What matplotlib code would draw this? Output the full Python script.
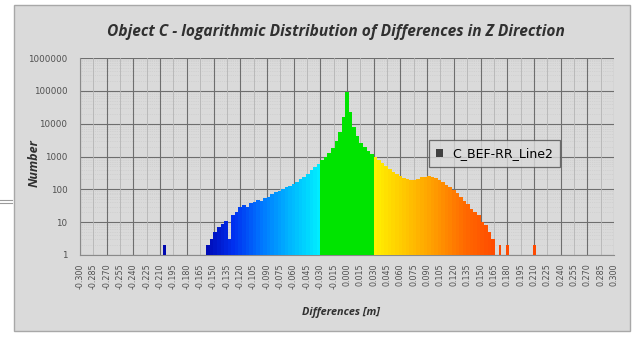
import numpy as np
import matplotlib
matplotlib.use("Agg")
import matplotlib.pyplot as plt
from matplotlib.colors import LinearSegmentedColormap
from matplotlib.patches import Rectangle, Patch
from matplotlib.lines import Line2D
from matplotlib.ticker import FixedLocator, NullFormatter

# histogram bins (centre of each 0.004 m class) and their counts
bin_centers = [round(-0.156 + 0.004 * i, 3) for i in range(81)]
counts = [
    2, 3, 5, 7, 9, 11, 3, 16, 21, 28,
    33, 30, 38, 42, 47, 44, 55, 60, 72, 82,
    92, 105, 118, 130, 148, 170, 200, 245, 300, 380,
    480, 590, 760, 950, 1250, 1800, 3000, 5500, 16000, 90000,
    22000, 8000, 4200, 2600, 1900, 1500, 1200, 1000, 780, 650,
    520, 420, 340, 290, 250, 220, 200, 190, 195, 210,
    230, 245, 250, 240, 220, 190, 165, 140, 120, 95,
    75, 60, 45, 35, 25, 20, 16, 10, 8, 5,
    3,
]
# isolated single classes away from the main body
outlier_x = [-0.205, 0.172, 0.180, 0.211]
outlier_counts = [2, 2, 2, 2]

bin_width = 0.004
xtick_values = [round(-0.300 + 0.015 * i, 3) for i in range(41)]
ytick_values = [1, 10, 100, 1000, 10000, 100000, 1000000]
green_limit = 0.030

blue_map = LinearSegmentedColormap.from_list(
    "neg", ["#0008b0", "#0030f0", "#0078ff", "#00b8ff", "#00f0ff"])
warm_map = LinearSegmentedColormap.from_list(
    "pos", ["#fff200", "#ffc800", "#ff9c00", "#ff6a00", "#ff4a00"])


def bar_color(x):
    if x < -green_limit:
        return blue_map((x + 0.160) / (0.160 - green_limit))
    if x > green_limit:
        return warm_map((x - green_limit) / (0.166 - green_limit))
    return "#00e400"


bg = "#dadada"
fig = plt.figure(figsize=(6.35, 3.4), dpi=100)
fig.patch.set_facecolor("white")
frame = Rectangle((14 / 635, 9 / 340), 616 / 635, 326 / 340,
                  transform=fig.transFigure, facecolor=bg,
                  edgecolor="#a8a8a8", linewidth=1.0, zorder=-5)
fig.add_artist(frame)
# page edge to the left of the chart
for yy in (200, 203):
    fig.add_artist(Line2D([0, 12 / 635], [1 - yy / 340] * 2,
                          transform=fig.transFigure, color="#9a9a9a",
                          linewidth=0.8))

ax = fig.add_axes([80 / 635, 85 / 340, 534 / 635, 197 / 340])
ax.set_zorder(2)
ax.set_facecolor(bg)

ax.bar(bin_centers, counts, width=bin_width * 1.02,
       color=[bar_color(x) for x in bin_centers], linewidth=0, zorder=3)
ax.bar(outlier_x, outlier_counts, width=0.003,
       color=[bar_color(x) for x in outlier_x], linewidth=0, zorder=3)

ax.set_yscale("log")
ax.set_ylim(1, 1000000)
ax.set_xlim(-0.300, 0.300)

ax.set_xticks(xtick_values)
ax.set_xticklabels([f"{v:.3f}" for v in xtick_values], rotation=90,
                   fontsize=5.8, color="#505050")
ax.set_yticks(ytick_values)
ax.set_yticklabels([str(v) for v in ytick_values], fontsize=6.3, color="#505050")
ax.yaxis.set_minor_locator(FixedLocator(
    [m * 10 ** e for e in range(6) for m in range(2, 10)]))
ax.yaxis.set_minor_formatter(NullFormatter())
ax.tick_params(axis="y", which="both", length=0, pad=9)
ax.tick_params(axis="x", which="both", length=0, pad=6)

# major lines every second class label, light lines in between
for i, v in enumerate(xtick_values):
    if i % 2 == 0:
        ax.axvline(v, color="#6e6e6e", linewidth=0.8, zorder=1)
    else:
        ax.axvline(v, color="#b4b4b4", linewidth=0.6, zorder=1)
ax.grid(True, axis="y", which="major", color="#6e6e6e", linewidth=0.8, zorder=1)
ax.grid(True, axis="y", which="minor", color="#c8c8c8", linewidth=0.5,
        linestyle=":", zorder=1)
ax.set_axisbelow(True)
for side in ["top", "right"]:
    ax.spines[side].set_visible(False)
for side in ["left", "bottom"]:
    ax.spines[side].set_color("#8a8a8a")
    ax.spines[side].set_linewidth(0.8)

font = ["Open Sans", "DejaVu Sans"]
fig.text(336 / 635, 1 - 32 / 340,
         "Object C - logarithmic Distribution of Differences in Z Direction",
         ha="center", va="center", fontsize=11.2, fontweight="bold",
         style="italic", color="#303030", family=font)
fig.text(34 / 635, 1 - 163 / 340, "Number", rotation=90, ha="center",
         va="center", fontsize=9, fontweight="bold", style="italic",
         color="#303030", family=font)
fig.text(341 / 635, 1 - 313 / 340, "Differences [m]", ha="center",
         va="center", fontsize=7.8, fontweight="bold", style="italic",
         color="#303030", family=font)

leg = ax.legend(handles=[Patch(facecolor="#404040", label="C_BEF-RR_Line2")],
                loc="center left", bbox_to_anchor=(0.653, 0.515),
                frameon=True, fancybox=False,
                handlelength=0.6, handleheight=0.6, borderpad=0.55,
                handletextpad=0.7, borderaxespad=0,
                prop={"family": "DejaVu Sans", "size": 9})
leg.get_frame().set_facecolor(bg)
leg.get_frame().set_edgecolor("#505050")
leg.get_frame().set_linewidth(0.9)
leg.set_zorder(5)

fig.savefig("out.png", dpi=100)
